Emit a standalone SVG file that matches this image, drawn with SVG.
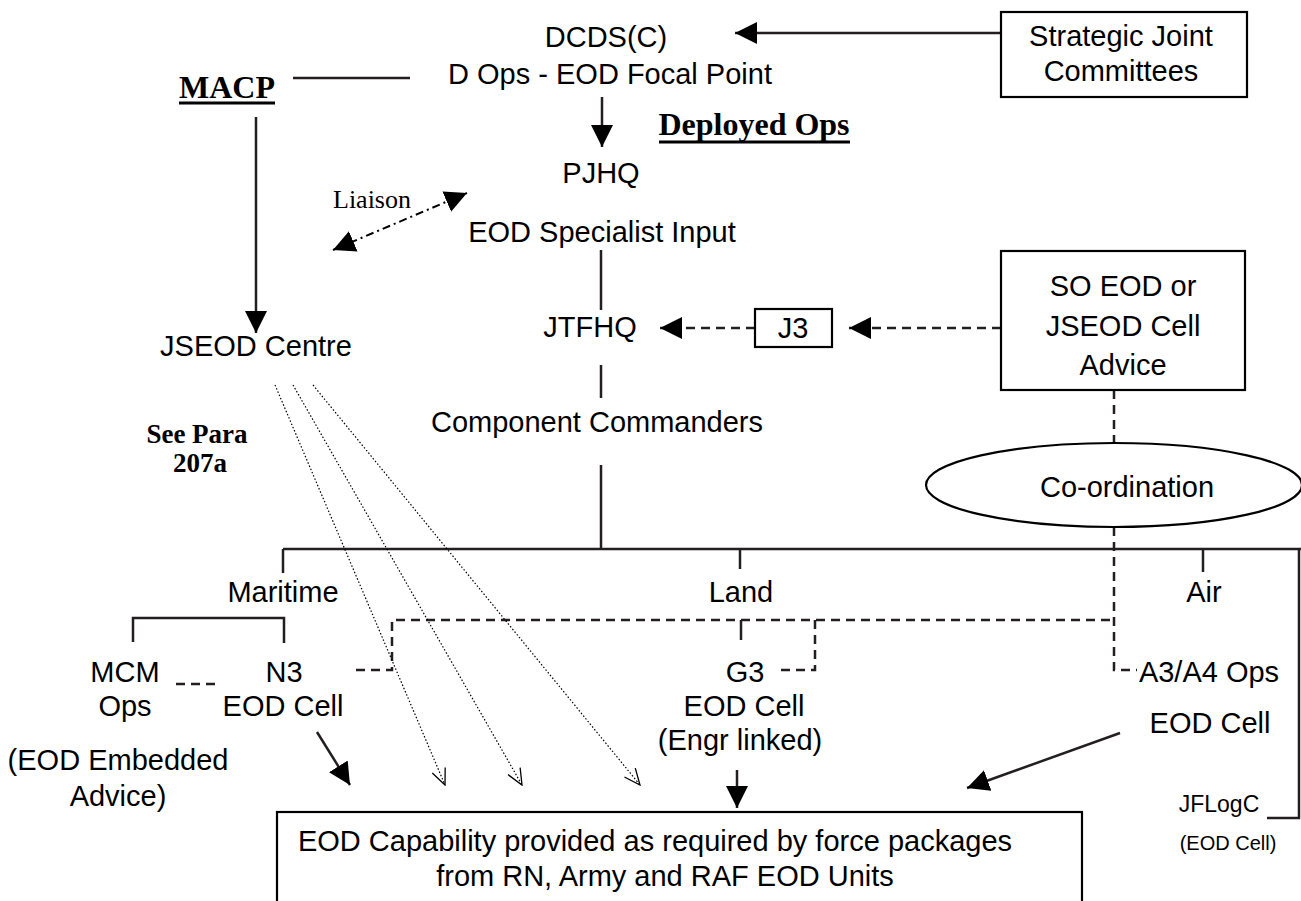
<svg xmlns="http://www.w3.org/2000/svg" width="1301" height="901" viewBox="0 0 1301 901">
<style>
.t{font-family:"Liberation Sans",Arial,sans-serif;font-size:29px;fill:#000;text-anchor:middle}
.sm{font-family:"Liberation Sans",Arial,sans-serif;font-size:23px;fill:#000;text-anchor:middle}
.xs{font-family:"Liberation Sans",Arial,sans-serif;font-size:20px;fill:#000;text-anchor:middle}
.b{font-family:"Liberation Serif","Times New Roman",serif;font-weight:bold;fill:#000;text-anchor:middle}
.r{font-family:"Liberation Serif","Times New Roman",serif;font-size:26px;fill:#000;text-anchor:middle}
.box{fill:#fff;stroke:#000;stroke-width:2.2}
.ln{fill:none;stroke:#231f20;stroke-width:2.5}
.ul{fill:none;stroke:#000;stroke-width:3}
.dash{fill:none;stroke:#231f20;stroke-width:2.5;stroke-dasharray:9 6}
.dd{fill:none;stroke:#000;stroke-width:2;stroke-dasharray:8 4 2 4}
.dot{fill:none;stroke:#000;stroke-width:1.2;stroke-dasharray:1.5 2}
</style>
<defs>
<marker id="ah" viewBox="0 0 22 22" refX="22" refY="11" markerWidth="22" markerHeight="22" markerUnits="userSpaceOnUse" orient="auto-start-reverse">
<path d="M0,0 L22,11 L0,22 z" fill="#000"/>
</marker>
<marker id="ov" viewBox="0 0 18 18" refX="17" refY="9" markerWidth="18" markerHeight="18" markerUnits="userSpaceOnUse" orient="auto">
<path d="M1,2 L17,9 L1,16" fill="none" stroke="#000" stroke-width="1.3"/>
</marker>
</defs>
<rect width="1301" height="901" fill="#fff"/>

<g id="connectors">
<line class="ln" x1="1001" y1="33" x2="735" y2="33" stroke-width="2" marker-end="url(#ah)"/>
<line class="ln" x1="293" y1="78" x2="410" y2="78" stroke-width="2"/>
<line class="ln" x1="256" y1="117" x2="256" y2="333" marker-end="url(#ah)"/>
<line class="ln" x1="602" y1="97" x2="602" y2="147" marker-end="url(#ah)"/>
<line class="dd" x1="333" y1="250" x2="467" y2="193" marker-start="url(#ah)" marker-end="url(#ah)"/>
<line class="ln" x1="601" y1="250" x2="601" y2="310"/>
<line class="ln" x1="601" y1="365" x2="601" y2="398"/>
<line class="dash" x1="755" y1="328" x2="660" y2="328" marker-end="url(#ah)"/>
<line class="dash" x1="1001" y1="328" x2="849" y2="328" marker-end="url(#ah)"/>
<line class="ln" x1="601" y1="465" x2="601" y2="549"/>
<line class="ln" x1="283" y1="549" x2="1301" y2="549"/>
<line class="ln" x1="283" y1="549" x2="283" y2="573"/>
<line class="ln" x1="740" y1="549" x2="740" y2="569"/>
<line class="ln" x1="1203" y1="549" x2="1203" y2="572"/>
<polyline class="ln" points="1299,549 1299,818 1267,818" stroke-width="2"/>
<polyline class="ln" points="133,642 133,618 284,618 284,643"/>
<line class="dash" x1="176" y1="684" x2="221" y2="684"/>
<polyline class="dash" points="356,670 392,670 392,620 1114,620"/>
<line class="dash" x1="1114" y1="390" x2="1114" y2="443"/>
<polyline class="dash" points="1114,527 1114,670 1137,670"/>
<line class="ln" x1="741" y1="620" x2="741" y2="640"/>
<polyline class="dash" points="815,620 815,670 778,670"/>
<line class="ln" x1="737" y1="770" x2="737" y2="808" marker-end="url(#ah)"/>
<line class="ln" x1="317" y1="732" x2="350" y2="785" marker-end="url(#ah)"/>
<line class="ln" x1="1120" y1="733" x2="967" y2="788" stroke-width="2" marker-end="url(#ah)"/>
<line class="dot" x1="275" y1="385" x2="445" y2="785" marker-end="url(#ov)"/>
<line class="dot" x1="293" y1="385" x2="522" y2="785" marker-end="url(#ov)"/>
<line class="dot" x1="313" y1="385" x2="640" y2="785" marker-end="url(#ov)"/>
</g>

<g id="dcds">
<text class="t" x="606" y="47">DCDS(C)</text>
<text class="t" x="610" y="84">D Ops - EOD Focal Point</text>
</g>
<g id="sjc">
<rect class="box" x="1001" y="12" width="246" height="85"/>
<text class="t" x="1121" y="46">Strategic Joint</text>
<text class="t" x="1121" y="81">Committees</text>
</g>
<g id="macp">
<text class="b" x="227" y="98" font-size="32">MACP</text>
<line class="ul" x1="179" y1="103" x2="275" y2="103"/>
</g>
<g id="deployed">
<text class="b" x="754" y="135" font-size="32">Deployed Ops</text>
<line class="ul" x1="659" y1="142" x2="850" y2="142"/>
</g>
<g id="pjhq">
<text class="t" x="601" y="183">PJHQ</text>
<text class="t" x="602" y="242">EOD Specialist Input</text>
</g>
<g id="liaison"><text class="r" x="372" y="208">Liaison</text></g>
<g id="jtfhq"><text class="t" x="590" y="337">JTFHQ</text></g>
<g id="j3">
<rect class="box" x="755" y="309" width="77" height="38" stroke-width="2"/>
<text class="t" x="793" y="338">J3</text>
</g>
<g id="soeod">
<rect class="box" x="1001" y="251" width="244" height="139"/>
<text class="t" x="1123" y="296">SO EOD or</text>
<text class="t" x="1123" y="336">JSEOD Cell</text>
<text class="t" x="1123" y="375">Advice</text>
</g>
<g id="jseod"><text class="t" x="256" y="356">JSEOD Centre</text></g>
<g id="cc"><text class="t" x="597" y="432">Component Commanders</text></g>
<g id="seepara">
<text class="b" x="197" y="443" font-size="27">See Para</text>
<text class="b" x="200" y="472" font-size="27">207a</text>
</g>
<g id="coord">
<ellipse cx="1114" cy="485" rx="188" ry="42" fill="#fff" stroke="#000" stroke-width="2.2"/>
<text class="t" x="1127" y="497">Co-ordination</text>
</g>
<g id="maritime"><text class="t" x="283" y="602">Maritime</text></g>
<g id="land"><text class="t" x="741" y="602">Land</text></g>
<g id="air"><text class="t" x="1204" y="602">Air</text></g>
<g id="mcm">
<text class="t" x="125" y="682">MCM</text>
<text class="t" x="125" y="716">Ops</text>
</g>
<g id="n3">
<text class="t" x="284" y="682">N3</text>
<text class="t" x="283" y="716">EOD Cell</text>
</g>
<g id="g3">
<text class="t" x="745" y="682">G3</text>
<text class="t" x="744" y="716">EOD Cell</text>
<text class="t" x="740" y="750">(Engr linked)</text>
</g>
<g id="a3">
<text class="t" x="1209" y="682">A3/A4 Ops</text>
<text class="t" x="1210" y="733">EOD Cell</text>
</g>
<g id="embedded">
<text class="t" x="118" y="770">(EOD Embedded</text>
<text class="t" x="118" y="806">Advice)</text>
</g>
<g id="jflogc">
<text class="sm" x="1219" y="812">JFLogC</text>
<text class="xs" x="1228" y="850">(EOD Cell)</text>
</g>
<g id="capability">
<rect class="box" x="277" y="812" width="805" height="100"/>
<text class="t" x="655" y="851">EOD Capability provided as required by force packages</text>
<text class="t" x="665" y="886">from RN, Army and RAF EOD Units</text>
</g>
</svg>
